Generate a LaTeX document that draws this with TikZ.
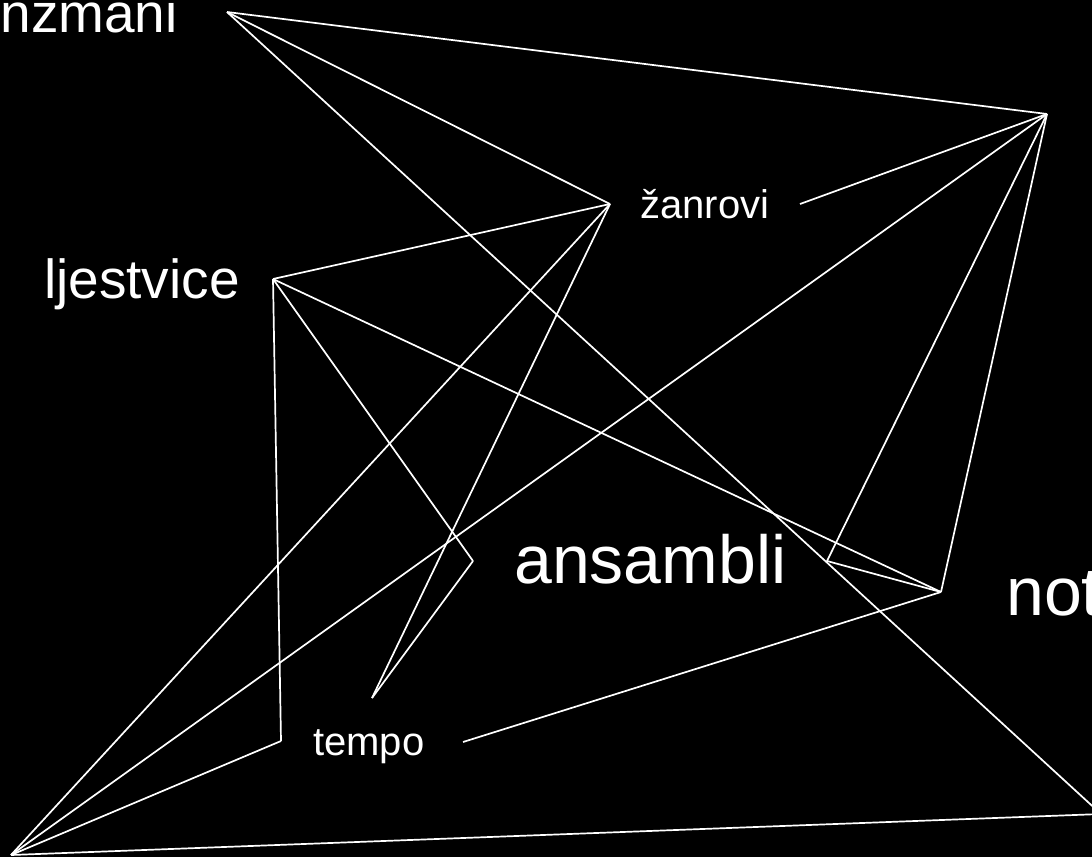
\documentclass[tikz,border=0pt]{standalone}
\usepackage{fontspec}
\setmainfont{Liberation Sans}
\begin{document}
\begin{tikzpicture}[x=1pt,y=-1pt,
  edge/.style={draw=white,line width=1.7pt,line join=miter},
  lbl/.style={text=white,inner sep=0pt,anchor=base west}]
\fill[black] (0,0) rectangle (1092,857);
\useasboundingbox (0,0) rectangle (1092,857);
\clip (0,0) rectangle (1092,857);
% labels
\node[lbl,anchor=base east,font=\fontsize{55}{60}\selectfont] (nz) at (178,32) {nzmani};
\node[lbl,font=\fontsize{55}{60}\selectfont] (lj) at (44,298) {ljestvice};
\node[lbl,font=\fontsize{40}{44}\selectfont] (za) at (640,218) {žanrovi};
\node[lbl,font=\fontsize{40}{44}\selectfont] (te) at (313,755) {tempo};
\node[lbl,font=\fontsize{68}{72}\selectfont] (an) at (514,583) {ansambli};
\node[lbl,font=\fontsize{68}{72}\selectfont] (no) at (1006,615) {not};
% vertices
\coordinate (A) at (227,12);
\coordinate (B) at (1047,114);
\coordinate (C) at (610,204);
\coordinate (D) at (800,204);
\coordinate (E) at (273,279);
\coordinate (F) at (473,561);
\coordinate (G) at (372,698);
\coordinate (H) at (281,741);
\coordinate (I) at (463,742);
\coordinate (J) at (827,561);
\coordinate (K) at (941,592);
\coordinate (L) at (1101,814);
\coordinate (M) at (11,855);
% connectors
\draw[edge] (A) -- (B);
\draw[edge] (A) -- (C);
\draw[edge] (A) -- (L);
\draw[edge] (B) -- (D);
\draw[edge] (B) -- (J);
\draw[edge] (B) -- (K);
\draw[edge] (B) -- (M);
\draw[edge] (C) -- (E);
\draw[edge] (C) -- (G);
\draw[edge] (C) -- (M);
\draw[edge] (E) -- (H);
\draw[edge] (E) -- (F);
\draw[edge] (E) -- (K);
\draw[edge] (F) -- (G);
\draw[edge] (H) -- (M);
\draw[edge] (I) -- (K);
\draw[edge] (J) -- (K);
\draw[edge] (M) -- (L);
\end{tikzpicture}
\end{document}
